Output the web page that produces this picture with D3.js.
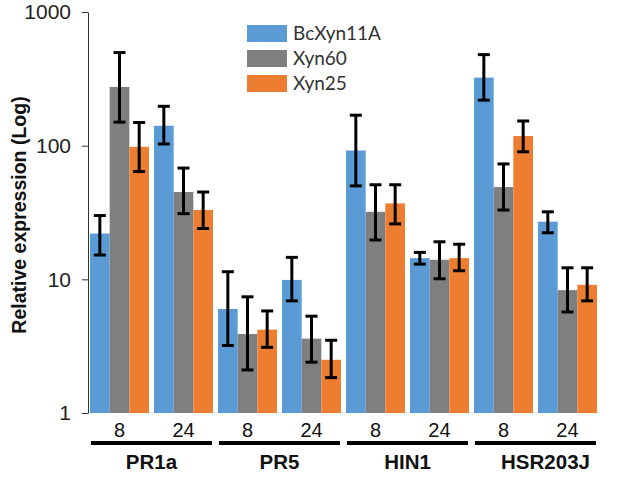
<!DOCTYPE html>
<html><head><meta charset="utf-8">
<script src="https://cdn.jsdelivr.net/npm/d3@7"></script>
<style>body{margin:0;background:#fff}svg{display:block}</style>
</head><body><svg id="c" width="634" height="477"></svg>
<script>
const genes = ["PR1a", "PR5", "HIN1", "HSR203J"];
const times = ["8", "24"];
const seriesNames = ["BcXyn11A", "Xyn60", "Xyn25"];
const colors = ["#5B9BD5", "#7F7F7F", "#ED7D31"];
// values per group (PR1a-8, PR1a-24, PR5-8, PR5-24, HIN1-8, HIN1-24, HSR203J-8, HSR203J-24)
const bcXyn11A     = [22, 141, 6.0, 9.9, 92, 14.4, 323, 27];
const bcXyn11AHigh = [30, 197, 11.4, 14.6, 169, 15.9, 480, 32];
const bcXyn11ALow  = [15.2, 103, 3.2, 6.9, 50, 13.0, 219, 22.3];
const xyn60     = [275, 45, 3.9, 3.6, 32, 14.0, 49, 8.3];
const xyn60High = [497, 68, 7.4, 5.3, 51, 19.1, 73, 12.2];
const xyn60Low  = [150, 31, 2.1, 2.4, 19.7, 10.1, 33, 5.7];
const xyn25     = [98, 33, 4.2, 2.5, 37, 14.4, 118, 9.1];
const xyn25High = [149, 45, 5.8, 3.5, 51, 18.3, 153, 12.2];
const xyn25Low  = [64, 24, 3.1, 1.84, 26, 11.6, 90, 6.9];
const yTicks = [1, 10, 100, 1000];

const series = [
  {name: seriesNames[0], v: bcXyn11A, hi: bcXyn11AHigh, lo: bcXyn11ALow},
  {name: seriesNames[1], v: xyn60, hi: xyn60High, lo: xyn60Low},
  {name: seriesNames[2], v: xyn25, hi: xyn25High, lo: xyn25Low}
];
const groups = [];
genes.forEach(g => times.forEach(t => groups.push(g + "|" + t)));

const svg = d3.select("#c");
const y = d3.scaleLog().domain([1, 1000]).range([413, 12]);
const x0 = d3.scaleBand().domain(groups).range([90, 597]).paddingInner(0.078).paddingOuter(0);
const x1 = d3.scaleBand().domain(seriesNames).range([0, x0.bandwidth()]).padding(0);
const sans = "Liberation Sans, Arial, sans-serif";

// y axis
const yAxis = d3.axisLeft(y).tickValues(yTicks).tickFormat(d3.format("d")).tickSize(6).tickSizeOuter(0);
const ga = svg.append("g").attr("transform", "translate(88,0)").call(yAxis);
ga.select(".domain").attr("stroke", "#333").attr("stroke-width", 1);
ga.selectAll(".tick line").attr("stroke", "#333");
ga.selectAll(".tick text").attr("font-family", sans).attr("font-size", 21).attr("fill", "#222").attr("x", -17);

svg.append("text").attr("transform", "translate(26,215) rotate(-90)").attr("text-anchor", "middle")
  .attr("font-family", sans).attr("font-weight", "bold").attr("font-size", 19.5).attr("fill", "#111")
  .text("Relative expression (Log)");

// bars
const gBars = svg.append("g");
series.forEach((s, si) => {
  groups.forEach((g, gi) => {
    const xb = x0(g) + x1(s.name);
    gBars.append("rect").attr("x", xb).attr("y", y(s.v[gi])).attr("width", x1.bandwidth()).attr("height", y(1) - y(s.v[gi])).attr("fill", colors[si]);
  });
});
// error bars
const gErr = svg.append("g").attr("stroke", "#000").attr("stroke-width", 3);
series.forEach((s, si) => {
  groups.forEach((g, gi) => {
    const cx = x0(g) + x1(s.name) + x1.bandwidth() / 2;
    const yh = y(s.hi[gi]), yl = y(s.lo[gi]);
    gErr.append("line").attr("x1", cx).attr("x2", cx).attr("y1", yh).attr("y2", yl);
    gErr.append("line").attr("x1", cx - 6).attr("x2", cx + 6).attr("y1", yh).attr("y2", yh);
    gErr.append("line").attr("x1", cx - 6).attr("x2", cx + 6).attr("y1", yl).attr("y2", yl);
  });
});

// time labels
groups.forEach(g => {
  svg.append("text").attr("x", x0(g) + x0.bandwidth() / 2).attr("y", 437).attr("text-anchor", "middle")
    .attr("font-family", sans).attr("font-size", 20).attr("fill", "#111").text(g.split("|")[1]);
});
// gene underline + labels
genes.forEach(gene => {
  const a = x0(gene + "|" + times[0]), b = x0(gene + "|" + times[1]) + x0.bandwidth();
  svg.append("line").attr("x1", a + 1).attr("x2", b - 1).attr("y1", 443).attr("y2", 443).attr("stroke", "#000").attr("stroke-width", 4);
  svg.append("text").attr("x", (a + b) / 2 + (gene === "HSR203J" ? 10 : 0)).attr("y", 469).attr("text-anchor", "middle")
    .attr("font-family", sans).attr("font-weight", "bold").attr("font-size", 20.5).attr("fill", "#111").text(gene);
});

// legend
const lg = svg.append("g").attr("transform", "translate(247,25)");
seriesNames.forEach((n, i) => {
  lg.append("rect").attr("x", 0).attr("y", i * 25).attr("width", 40).attr("height", 17).attr("fill", colors[i]);
  lg.append("text").attr("x", 46).attr("y", i * 25 + 15).attr("font-family", "Lato, Open Sans, sans-serif").attr("font-size", 19).attr("fill", "#333").text(n);
});
</script></body></html>
